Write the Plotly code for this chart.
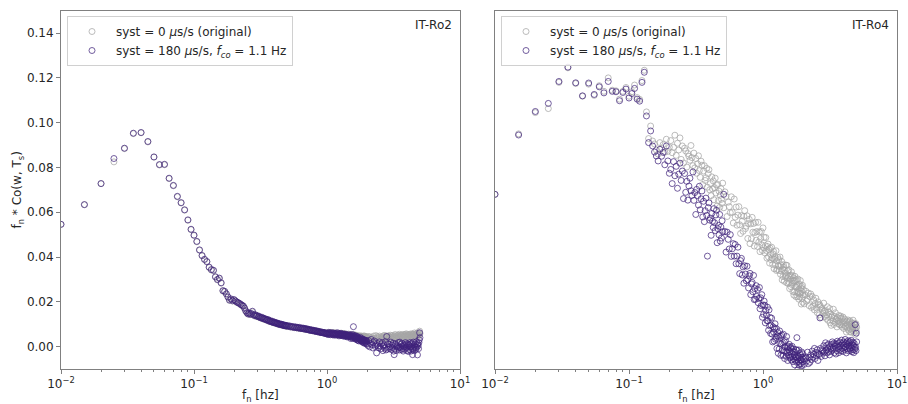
import plotly.graph_objects as go

# ---------------- data ----------------
FREQ = [
    # 0.010 - 0.200
    0.010, 0.015, 0.020, 0.025, 0.030, 0.035, 0.040, 0.045, 0.050, 0.055,
    0.060, 0.065, 0.070, 0.075, 0.080, 0.085, 0.090, 0.095, 0.100, 0.105,
    0.110, 0.115, 0.120, 0.125, 0.130, 0.135, 0.140, 0.145, 0.150, 0.155,
    0.160, 0.165, 0.170, 0.175, 0.180, 0.185, 0.190, 0.195, 0.200,
    # 0.205 - 0.500
    0.205, 0.210, 0.215, 0.220, 0.225, 0.230, 0.235, 0.240, 0.245, 0.250,
    0.255, 0.260, 0.265, 0.270, 0.275, 0.280, 0.285, 0.290, 0.295, 0.300,
    0.305, 0.310, 0.315, 0.320, 0.325, 0.330, 0.335, 0.340, 0.345, 0.350,
    0.355, 0.360, 0.365, 0.370, 0.375, 0.380, 0.385, 0.390, 0.395, 0.400,
    0.405, 0.410, 0.415, 0.420, 0.425, 0.430, 0.435, 0.440, 0.445, 0.450,
    0.455, 0.460, 0.465, 0.470, 0.475, 0.480, 0.485, 0.490, 0.495, 0.500,
    # 0.51 - 1.00
    0.51, 0.52, 0.53, 0.54, 0.55, 0.56, 0.57, 0.58, 0.59, 0.60,
    0.61, 0.62, 0.63, 0.64, 0.65, 0.66, 0.67, 0.68, 0.69, 0.70,
    0.71, 0.72, 0.73, 0.74, 0.75, 0.76, 0.77, 0.78, 0.79, 0.80,
    0.81, 0.82, 0.83, 0.84, 0.85, 0.86, 0.87, 0.88, 0.89, 0.90,
    0.91, 0.92, 0.93, 0.94, 0.95, 0.96, 0.97, 0.98, 0.99, 1.00,
    # 1.01 - 2.00
    1.01, 1.02, 1.03, 1.04, 1.05, 1.06, 1.07, 1.08, 1.09, 1.10,
    1.11, 1.12, 1.13, 1.14, 1.15, 1.16, 1.17, 1.18, 1.19, 1.20,
    1.21, 1.22, 1.23, 1.24, 1.25, 1.26, 1.27, 1.28, 1.29, 1.30,
    1.31, 1.32, 1.33, 1.34, 1.35, 1.36, 1.37, 1.38, 1.39, 1.40,
    1.41, 1.42, 1.43, 1.44, 1.45, 1.46, 1.47, 1.48, 1.49, 1.50,
    1.51, 1.52, 1.53, 1.54, 1.55, 1.56, 1.57, 1.58, 1.59, 1.60,
    1.61, 1.62, 1.63, 1.64, 1.65, 1.66, 1.67, 1.68, 1.69, 1.70,
    1.71, 1.72, 1.73, 1.74, 1.75, 1.76, 1.77, 1.78, 1.79, 1.80,
    1.81, 1.82, 1.83, 1.84, 1.85, 1.86, 1.87, 1.88, 1.89, 1.90,
    1.91, 1.92, 1.93, 1.94, 1.95, 1.96, 1.97, 1.98, 1.99, 2.00,
    # 2.03 - 5.00
    2.03, 2.06, 2.09, 2.12, 2.15, 2.18, 2.21, 2.24, 2.27, 2.30,
    2.33, 2.36, 2.39, 2.42, 2.45, 2.48, 2.51, 2.54, 2.57, 2.60,
    2.63, 2.66, 2.69, 2.72, 2.75, 2.78, 2.81, 2.84, 2.87, 2.90,
    2.93, 2.96, 2.99, 3.02, 3.05, 3.08, 3.11, 3.14, 3.17, 3.20,
    3.23, 3.26, 3.29, 3.32, 3.35, 3.38, 3.41, 3.44, 3.47, 3.50,
    3.53, 3.56, 3.59, 3.62, 3.65, 3.68, 3.71, 3.74, 3.77, 3.80,
    3.83, 3.86, 3.89, 3.92, 3.95, 3.98, 4.01, 4.04, 4.07, 4.10,
    4.13, 4.16, 4.19, 4.22, 4.25, 4.28, 4.31, 4.34, 4.37, 4.40,
    4.43, 4.46, 4.49, 4.52, 4.55, 4.58, 4.61, 4.64, 4.67, 4.70,
    4.73, 4.76, 4.79, 4.82, 4.85, 4.88, 4.91, 4.94, 4.97, 5.00,
]

# IT-Ro2, syst = 0 (original)
RO2_ORIG = [
    0.0546, 0.0634, 0.0728, 0.0825, 0.0884, 0.0951, 0.0955, 0.0914, 0.0846, 0.0811,
    0.0812, 0.0750, 0.0718, 0.0669, 0.0641, 0.0609, 0.0564, 0.0522, 0.0496, 0.0468,
    0.0430, 0.0405, 0.0388, 0.0378, 0.0353, 0.0342, 0.0339, 0.0310, 0.0298, 0.0304,
    0.0283, 0.0248, 0.0245, 0.0234, 0.0220, 0.0206, 0.0211, 0.0203, 0.0208,
    0.0203, 0.0197, 0.0195, 0.0191, 0.0187, 0.0183, 0.0180, 0.0170, 0.0159, 0.0150,
    0.0145, 0.0148, 0.0143, 0.0146, 0.0155, 0.0142, 0.0137, 0.0141, 0.0135, 0.0136,
    0.0132, 0.0133, 0.0129, 0.0127, 0.0129, 0.0124, 0.0125, 0.0121, 0.0122, 0.0119,
    0.0117, 0.0119, 0.0115, 0.0112, 0.0114, 0.0111, 0.0109, 0.0111, 0.0107, 0.0106,
    0.0107, 0.0104, 0.0105, 0.0102, 0.0103, 0.0100, 0.0101, 0.0098, 0.0099, 0.0097,
    0.0098, 0.0096, 0.0095, 0.0096, 0.0093, 0.0094, 0.0092, 0.0093, 0.0091, 0.0092,
    0.0090, 0.0090, 0.0088, 0.0089, 0.0087, 0.0087, 0.0085, 0.0086, 0.0084, 0.0084,
    0.0083, 0.0083, 0.0081, 0.0082, 0.0080, 0.0080, 0.0079, 0.0079, 0.0077, 0.0078,
    0.0076, 0.0076, 0.0075, 0.0074, 0.0074, 0.0073, 0.0073, 0.0071, 0.0072, 0.0070,
    0.0070, 0.0069, 0.0069, 0.0068, 0.0067, 0.0067, 0.0066, 0.0066, 0.0065, 0.0064,
    0.0064, 0.0063, 0.0063, 0.0062, 0.0062, 0.0061, 0.0061, 0.0060, 0.0060, 0.0059,
    0.0055, 0.0061, 0.0064, 0.0057, 0.0058, 0.0063, 0.0054, 0.0060, 0.0062, 0.0053,
    0.0062, 0.0056, 0.0060, 0.0053, 0.0058, 0.0061, 0.0055, 0.0052, 0.0059, 0.0057,
    0.0052, 0.0059, 0.0057, 0.0050, 0.0056, 0.0055, 0.0053, 0.0060, 0.0054, 0.0051,
    0.0056, 0.0051, 0.0053, 0.0058, 0.0049, 0.0055, 0.0052, 0.0057, 0.0048, 0.0054,
    0.0045, 0.0051, 0.0052, 0.0048, 0.0056, 0.0046, 0.0051, 0.0047, 0.0054, 0.0049,
    0.0049, 0.0040, 0.0051, 0.0047, 0.0044, 0.0053, 0.0046, 0.0042, 0.0050, 0.0053,
    0.0042, 0.0050, 0.0039, 0.0045, 0.0051, 0.0042, 0.0038, 0.0046, 0.0049, 0.0040,
    0.0041, 0.0045, 0.0034, 0.0047, 0.0044, 0.0039, 0.0048, 0.0036, 0.0042, 0.0046,
    0.0034, 0.0047, 0.0038, 0.0043, 0.0034, 0.0041, 0.0045, 0.0038, 0.0036, 0.0048,
    0.0041, 0.0034, 0.0045, 0.0038, 0.0043, 0.0032, 0.0039, 0.0045, 0.0036, 0.0041,
    0.0034, 0.0045, 0.0043, 0.0031, 0.0041, 0.0039, 0.0036, 0.0047, 0.0038, 0.0032,
    0.0049, 0.0038, 0.0045, 0.0034, 0.0041, 0.0047, 0.0036, 0.0031, 0.0043, 0.0040,
    0.0036, 0.0046, 0.0050, 0.0039, 0.0041, 0.0048, 0.0034, 0.0044, 0.0047, 0.0032,
    0.0046, 0.0037, 0.0051, 0.0042, 0.0048, 0.0034, 0.0043, 0.0050, 0.0039, 0.0045,
    0.0038, 0.0054, 0.0042, 0.0049, 0.0037, 0.0046, 0.0051, 0.0043, 0.0040, 0.0055,
    0.0045, 0.0050, 0.0036, 0.0052, 0.0048, 0.0042, 0.0054, 0.0039, 0.0046, 0.0051,
    0.0045, 0.0055, 0.0042, 0.0049, 0.0057, 0.0046, 0.0040, 0.0051, 0.0054, 0.0043,
    0.0051, 0.0040, 0.0054, 0.0049, 0.0045, 0.0057, 0.0048, 0.0043, 0.0053, 0.0056,
    0.0043, 0.0052, 0.0054, 0.0048, 0.0061, 0.0044, 0.0053, 0.0046, 0.0057, 0.0050,
    0.0058, 0.0049, 0.0053, 0.0062, 0.0047, 0.0056, 0.0051, 0.0060, 0.0069, 0.0058,
]

# IT-Ro2, syst = 180 us/s, f_co = 1.1 Hz
RO2_SYST = [
    0.0546, 0.0634, 0.0728, 0.0840, 0.0886, 0.0953, 0.0956, 0.0916, 0.0847, 0.0813,
    0.0814, 0.0752, 0.0720, 0.0671, 0.0643, 0.0611, 0.0566, 0.0524, 0.0498, 0.0470,
    0.0432, 0.0407, 0.0390, 0.0380, 0.0355, 0.0344, 0.0341, 0.0312, 0.0300, 0.0306,
    0.0285, 0.0250, 0.0247, 0.0236, 0.0222, 0.0208, 0.0213, 0.0205, 0.0210,
    0.0204, 0.0199, 0.0196, 0.0193, 0.0188, 0.0185, 0.0181, 0.0172, 0.0160, 0.0152,
    0.0146, 0.0150, 0.0144, 0.0148, 0.0158, 0.0143, 0.0139, 0.0142, 0.0136, 0.0138,
    0.0133, 0.0135, 0.0130, 0.0128, 0.0131, 0.0125, 0.0126, 0.0122, 0.0124, 0.0120,
    0.0118, 0.0121, 0.0116, 0.0113, 0.0116, 0.0112, 0.0110, 0.0113, 0.0108, 0.0107,
    0.0109, 0.0105, 0.0106, 0.0103, 0.0105, 0.0101, 0.0102, 0.0099, 0.0101, 0.0098,
    0.0100, 0.0097, 0.0096, 0.0098, 0.0094, 0.0095, 0.0093, 0.0095, 0.0092, 0.0093,
    0.0091, 0.0093, 0.0088, 0.0090, 0.0087, 0.0089, 0.0085, 0.0088, 0.0084, 0.0086,
    0.0083, 0.0086, 0.0081, 0.0083, 0.0080, 0.0083, 0.0079, 0.0081, 0.0077, 0.0080,
    0.0076, 0.0078, 0.0075, 0.0073, 0.0076, 0.0072, 0.0074, 0.0071, 0.0073, 0.0070,
    0.0069, 0.0071, 0.0068, 0.0070, 0.0066, 0.0068, 0.0065, 0.0067, 0.0064, 0.0063,
    0.0065, 0.0062, 0.0064, 0.0061, 0.0063, 0.0059, 0.0061, 0.0058, 0.0060, 0.0057,
    0.0060, 0.0054, 0.0063, 0.0057, 0.0061, 0.0053, 0.0058, 0.0062, 0.0056, 0.0059,
    0.0052, 0.0061, 0.0054, 0.0058, 0.0051, 0.0057, 0.0060, 0.0055, 0.0053, 0.0062,
    0.0053, 0.0056, 0.0048, 0.0058, 0.0055, 0.0052, 0.0059, 0.0050, 0.0054, 0.0057,
    0.0049, 0.0055, 0.0047, 0.0052, 0.0056, 0.0050, 0.0046, 0.0053, 0.0055, 0.0048,
    0.0049, 0.0043, 0.0051, 0.0048, 0.0046, 0.0053, 0.0047, 0.0044, 0.0050, 0.0052,
    0.0036, 0.0045, 0.0047, 0.0041, 0.0054, 0.0037, 0.0046, 0.0089, 0.0050, 0.0043,
    0.0044, 0.0035, 0.0039, 0.0048, 0.0033, 0.0042, 0.0037, 0.0046, 0.0030, 0.0040,
    0.0028, 0.0039, 0.0037, 0.0025, 0.0035, 0.0033, 0.0030, 0.0041, 0.0032, 0.0026,
    0.0036, 0.0025, 0.0032, 0.0021, 0.0028, 0.0034, 0.0023, 0.0018, 0.0030, 0.0027,
    0.0015, 0.0025, 0.0029, 0.0018, 0.0020, 0.0027, 0.0013, 0.0023, 0.0026, 0.0011,
    0.0005, 0.0027, -0.0001, 0.0014, 0.0032, 0.0008, -0.0006, 0.0019, 0.0025, 0.0001,
    0.0007, -0.0028, 0.0014, 0.0003, -0.0006, 0.0021, 0.0001, -0.0010, 0.0012, 0.0018,
    -0.0018, 0.0002, 0.0007, -0.0007, 0.0022, -0.0015, 0.0045, -0.0011, 0.0013, -0.0002,
    0.0011, -0.0009, 0.0000, 0.0020, -0.0013, 0.0007, -0.0004, 0.0015, -0.0020, -0.0036,
    -0.0011, 0.0013, 0.0009, -0.0018, 0.0004, 0.0000, -0.0007, 0.0018, -0.0002, -0.0015,
    0.0020, -0.0004, 0.0011, -0.0013, 0.0002, 0.0015, -0.0009, -0.0020, 0.0007, 0.0000,
    -0.0013, 0.0009, 0.0018, -0.0007, -0.0002, 0.0013, -0.0018, 0.0004, 0.0011, -0.0022,
    0.0007, -0.0013, 0.0018, -0.0002, 0.0011, -0.0020, 0.0000, 0.0015, -0.0009, -0.0036,
    -0.0015, 0.0020, -0.0007, 0.0009, -0.0018, 0.0002, 0.0013, -0.0004, -0.0011, 0.0022,
    -0.0002, 0.0009, -0.0037, 0.0013, 0.0004, -0.0009, 0.0018, 0.0030, 0.0062, 0.0040,
]

# IT-Ro4, syst = 0 (original)
RO4_ORIG = [
    0.0680, 0.0950, 0.1045, 0.1063, 0.1180, 0.1245, 0.1175, 0.1118, 0.1172, 0.1122,
    0.1165, 0.1140, 0.1200, 0.1145, 0.1142, 0.1105, 0.1140, 0.1157, 0.1118, 0.1138,
    0.1168, 0.1112, 0.1104, 0.1188, 0.1234, 0.1048, 0.0929, 0.0985, 0.0918, 0.0905,
    0.0878, 0.0860, 0.0911, 0.0885, 0.0902, 0.0868, 0.0926, 0.0872, 0.0890,
    0.0920, 0.0866, 0.0890, 0.0944, 0.0854, 0.0908, 0.0878, 0.0932, 0.0836, 0.0896,
    0.0820, 0.0886, 0.0874, 0.0802, 0.0862, 0.0850, 0.0832, 0.0898, 0.0844, 0.0808,
    0.0864, 0.0798, 0.0840, 0.0774, 0.0816, 0.0852, 0.0786, 0.0756, 0.0828, 0.0810,
    0.0724, 0.0784, 0.0808, 0.0742, 0.0754, 0.0796, 0.0712, 0.0772, 0.0790, 0.0700,
    0.0728, 0.0674, 0.0758, 0.0704, 0.0740, 0.0656, 0.0710, 0.0752, 0.0686, 0.0722,
    0.0628, 0.0724, 0.0652, 0.0694, 0.0622, 0.0676, 0.0706, 0.0658, 0.0640, 0.0730,
    0.0620, 0.0691, 0.0671, 0.0581, 0.0645, 0.0625, 0.0598, 0.0669, 0.0600, 0.0552,
    0.0659, 0.0578, 0.0623, 0.0542, 0.0587, 0.0625, 0.0544, 0.0505, 0.0585, 0.0560,
    0.0515, 0.0582, 0.0607, 0.0527, 0.0538, 0.0584, 0.0483, 0.0550, 0.0568, 0.0460,
    0.0548, 0.0482, 0.0577, 0.0511, 0.0550, 0.0449, 0.0509, 0.0555, 0.0475, 0.0514,
    0.0447, 0.0555, 0.0467, 0.0512, 0.0424, 0.0483, 0.0514, 0.0454, 0.0429, 0.0530,
    0.0441, 0.0488, 0.0419, 0.0451, 0.0487, 0.0429, 0.0395, 0.0447, 0.0458, 0.0400,
    0.0432, 0.0373, 0.0440, 0.0411, 0.0388, 0.0444, 0.0396, 0.0367, 0.0414, 0.0425,
    0.0348, 0.0390, 0.0398, 0.0365, 0.0428, 0.0340, 0.0383, 0.0345, 0.0398, 0.0360,
    0.0388, 0.0340, 0.0358, 0.0400, 0.0323, 0.0365, 0.0338, 0.0380, 0.0298, 0.0345,
    0.0313, 0.0366, 0.0354, 0.0292, 0.0340, 0.0328, 0.0311, 0.0364, 0.0317, 0.0285,
    0.0363, 0.0306, 0.0339, 0.0282, 0.0315, 0.0343, 0.0286, 0.0259, 0.0317, 0.0300,
    0.0268, 0.0316, 0.0334, 0.0277, 0.0285, 0.0318, 0.0246, 0.0294, 0.0307, 0.0230,
    0.0293, 0.0246, 0.0314, 0.0267, 0.0295, 0.0223, 0.0266, 0.0299, 0.0242, 0.0270,
    0.0223, 0.0302, 0.0240, 0.0274, 0.0212, 0.0256, 0.0279, 0.0238, 0.0221, 0.0295,
    0.0238, 0.0262, 0.0190, 0.0269, 0.0247, 0.0216, 0.0274, 0.0198, 0.0231, 0.0255,
    0.0191, 0.0231, 0.0247, 0.0203, 0.0211, 0.0239, 0.0183, 0.0223, 0.0235, 0.0175,
    0.0224, 0.0180, 0.0208, 0.0164, 0.0192, 0.0216, 0.0172, 0.0152, 0.0200, 0.0188,
    0.0142, 0.0186, 0.0178, 0.0130, 0.0170, 0.0162, 0.0150, 0.0194, 0.0158, 0.0134,
    0.0162, 0.0126, 0.0142, 0.0178, 0.0118, 0.0154, 0.0134, 0.0170, 0.0106, 0.0146,
    0.0095, 0.0131, 0.0139, 0.0115, 0.0167, 0.0099, 0.0135, 0.0107, 0.0151, 0.0123,
    0.0121, 0.0088, 0.0130, 0.0115, 0.0103, 0.0139, 0.0112, 0.0097, 0.0127, 0.0136,
    0.0096, 0.0126, 0.0087, 0.0108, 0.0132, 0.0099, 0.0081, 0.0114, 0.0123, 0.0090,
    0.0092, 0.0107, 0.0065, 0.0113, 0.0101, 0.0083, 0.0119, 0.0074, 0.0095, 0.0110,
    0.0067, 0.0115, 0.0079, 0.0100, 0.0064, 0.0091, 0.0106, 0.0082, 0.0073, 0.0118,
    0.0090, 0.0063, 0.0105, 0.0078, 0.0096, 0.0054, 0.0081, 0.0102, 0.0069, 0.0087,
]

# IT-Ro4, syst = 180 us/s, f_co = 1.1 Hz
RO4_SYST = [
    0.0680, 0.0945, 0.1050, 0.1086, 0.1184, 0.1248, 0.1178, 0.1120, 0.1177, 0.1126,
    0.1160, 0.1133, 0.1184, 0.1140, 0.1138, 0.1098, 0.1135, 0.1150, 0.1110, 0.1130,
    0.1153, 0.1105, 0.1096, 0.1180, 0.1225, 0.1030, 0.0911, 0.0963, 0.0896, 0.0869,
    0.0851, 0.0829, 0.0881, 0.0850, 0.0867, 0.0812, 0.0896, 0.0829, 0.0774,
    0.0791, 0.0728, 0.0826, 0.0763, 0.0805, 0.0707, 0.0770, 0.0819, 0.0742, 0.0784,
    0.0661, 0.0773, 0.0689, 0.0738, 0.0654, 0.0717, 0.0752, 0.0696, 0.0675, 0.0780,
    0.0653, 0.0688, 0.0590, 0.0702, 0.0674, 0.0632, 0.0716, 0.0611, 0.0660, 0.0695,
    0.0579, 0.0649, 0.0558, 0.0607, 0.0663, 0.0586, 0.0404, 0.0621, 0.0642, 0.0565,
    0.0574, 0.0497, 0.0595, 0.0560, 0.0532, 0.0616, 0.0553, 0.0518, 0.0588, 0.0609,
    0.0464, 0.0527, 0.0541, 0.0499, 0.0590, 0.0471, 0.0534, 0.0485, 0.0562, 0.0513,
    0.0680, 0.0514, 0.0422, 0.0511, 0.0479, 0.0436, 0.0500, 0.0403, 0.0437, 0.0460,
    0.0404, 0.0456, 0.0370, 0.0404, 0.0444, 0.0370, 0.0326, 0.0384, 0.0394, 0.0320,
    0.0356, 0.0283, 0.0361, 0.0324, 0.0294, 0.0359, 0.0299, 0.0262, 0.0316, 0.0327,
    0.0232, 0.0280, 0.0287, 0.0245, 0.0318, 0.0210, 0.0259, 0.0211, 0.0272, 0.0224,
    0.0255, 0.0196, 0.0215, 0.0264, 0.0169, 0.0218, 0.0183, 0.0232, 0.0131, 0.0186,
    0.0144, 0.0203, 0.0185, 0.0106, 0.0160, 0.0141, 0.0116, 0.0176, 0.0115, 0.0073,
    0.0164, 0.0093, 0.0130, 0.0059, 0.0096, 0.0127, 0.0056, 0.0021, 0.0088, 0.0065,
    0.0025, 0.0082, 0.0102, 0.0033, 0.0041, 0.0080, -0.0008, 0.0049, 0.0063, -0.0030,
    0.0045, -0.0011, 0.0070, 0.0014, 0.0047, -0.0039, 0.0012, 0.0052, -0.0017, 0.0017,
    -0.0039, 0.0055, -0.0019, 0.0021, -0.0053, -0.0001, 0.0027, -0.0023, -0.0043, 0.0045,
    -0.0026, -0.0006, -0.0062, 0.0002, -0.0014, -0.0038, 0.0010, -0.0050, -0.0022, -0.0002,
    -0.0047, -0.0007, -0.0059, -0.0031, 0.0001, -0.0043, -0.0067, -0.0023, -0.0011, -0.0055,
    -0.0037, -0.0081, -0.0025, -0.0045, -0.0061, -0.0013, -0.0049, -0.0069, 0.0040, -0.0017,
    -0.0105, -0.0051, -0.0043, -0.0067, -0.0015, -0.0083, -0.0047, -0.0075, -0.0031, -0.0059,
    -0.0040, -0.0076, -0.0060, -0.0024, -0.0084, -0.0048, -0.0068, -0.0032, -0.0112, -0.0056,
    -0.0079, -0.0052, -0.0046, -0.0064, -0.0025, -0.0076, -0.0049, -0.0070, -0.0037, -0.0058,
    -0.0020, -0.0047, -0.0035, -0.0008, -0.0053, -0.0026, -0.0041, -0.0014, -0.0062, -0.0032,
    -0.0035, 0.0128, -0.0008, -0.0044, -0.0014, -0.0020, -0.0029, 0.0004, -0.0023, -0.0041,
    0.0017, -0.0016, 0.0005, -0.0028, -0.0007, 0.0011, -0.0022, -0.0037, -0.0001, -0.0010,
    -0.0021, 0.0009, 0.0021, -0.0012, -0.0006, 0.0015, -0.0027, 0.0003, 0.0012, -0.0033,
    0.0009, -0.0018, 0.0024, -0.0003, 0.0015, -0.0027, 0.0000, 0.0021, -0.0012, 0.0006,
    -0.0019, 0.0029, -0.0007, 0.0014, -0.0022, 0.0005, 0.0020, -0.0004, -0.0013, 0.0032,
    -0.0001, 0.0014, -0.0028, 0.0020, 0.0008, -0.0010, 0.0026, -0.0019, 0.0002, 0.0017,
    -0.0008, 0.0022, -0.0017, 0.0004, 0.0028, -0.0005, -0.0023, 0.0010, 0.0019, -0.0014,
    0.0006, -0.0027, 0.0015, 0.0000, -0.0012, 0.0098, -0.0003, -0.0018, 0.0060, 0.0021,
]

for arr in (RO2_ORIG, RO2_SYST, RO4_ORIG, RO4_SYST):
    assert len(arr) == len(FREQ), (len(arr), len(FREQ))

LABEL_ORIG = "syst = 0 <i>\u03bc</i>s/s (original)"
LABEL_SYST = "syst = 180 <i>\u03bc</i>s/s, <i>f</i><sub><i>co</i></sub> = 1.1 Hz"
PANELS = ["IT-Ro2", "IT-Ro4"]
X_TITLE = "f<sub>n</sub> [hz]"
Y_TITLE = "f<sub>n</sub> * Co(w, T<sub>s</sub>)"
Y_TICKS = [0.00, 0.02, 0.04, 0.06, 0.08, 0.10, 0.12, 0.14]
X_TICKS = [0.01, 0.1, 1, 10]
X_TICKTEXT = ["10<sup>\u22122</sup>", "10<sup>\u22121</sup>", "10<sup>0</sup>", "10<sup>1</sup>"]

# ---------------- styles ----------------
FONT = "DejaVu Sans"
TXT = "#262626"
GRAY = "rgba(165,165,165,0.75)"
PURPLE = "rgba(62,33,122,0.72)"
FRAME = "#808080"

fig = go.Figure()

def add_pair(orig, syst, xa, ya, legend):
    fig.add_trace(go.Scatter(
        x=FREQ, y=orig, mode="markers", name=LABEL_ORIG, xaxis=xa, yaxis=ya, legend=legend,
        marker=dict(symbol="circle-open", size=6, color=GRAY, line=dict(width=1, color=GRAY)),
    ))
    fig.add_trace(go.Scatter(
        x=FREQ, y=syst, mode="markers", name=LABEL_SYST, xaxis=xa, yaxis=ya, legend=legend,
        marker=dict(symbol="circle-open", size=6, color=PURPLE, line=dict(width=1, color=PURPLE)),
    ))

add_pair(RO2_ORIG, RO2_SYST, "x", "y", "legend")
add_pair(RO4_ORIG, RO4_SYST, "x2", "y2", "legend2")

W, H = 908, 404
L1, R1 = 61, 460
L2, R2 = 495, 897
TOP, BOT = 10.7, 369

xcommon = dict(
    type="log", range=[-2, 1], tickvals=X_TICKS, ticktext=X_TICKTEXT,
    showline=True, mirror=True, linecolor=FRAME, linewidth=1,
    ticks="outside", ticklen=4, tickcolor=FRAME, showgrid=False, zeroline=False,
    minor=dict(ticks="outside", ticklen=2, tickcolor=FRAME, dtick="D1", showgrid=False),
    tickfont=dict(family=FONT, size=12, color=TXT), automargin=False,
)
ycommon = dict(
    range=[-0.01, 0.15], tickvals=Y_TICKS, tickformat=".2f",
    showline=True, mirror=True, linecolor=FRAME, linewidth=1,
    showgrid=False, zeroline=False, automargin=False,
    tickfont=dict(family=FONT, size=12, color=TXT),
)

ydom = [1 - BOT / H, 1 - TOP / H]
legend_style = dict(xanchor="left", yanchor="top",
                    bgcolor="rgba(255,255,255,0.85)", bordercolor="#d0d0d0", borderwidth=1,
                    font=dict(family=FONT, size=12, color=TXT), itemwidth=38)
fig.update_layout(
    width=W, height=H, margin=dict(l=0, r=0, t=0, b=0),
    paper_bgcolor="white", plot_bgcolor="white",
    font=dict(family=FONT, size=12, color=TXT),
    xaxis=dict(domain=[L1 / W, R1 / W], anchor="y", **xcommon),
    xaxis2=dict(domain=[L2 / W, R2 / W], anchor="y2", **xcommon),
    yaxis=dict(domain=ydom, anchor="x", ticks="outside", ticklen=4, tickcolor=FRAME,
               title=dict(text=Y_TITLE, font=dict(family=FONT, size=12, color=TXT), standoff=2),
               **ycommon),
    yaxis2=dict(domain=ydom, anchor="x2", matches="y", showticklabels=False, ticks="", **ycommon),
    legend=dict(x=67 / W, y=1 - 16 / H, **legend_style),
    legend2=dict(x=501 / W, y=1 - 16 / H, **legend_style),
    showlegend=True,
)

for name, xl, xr in zip(PANELS, [L1, L2], [R1, R2]):
    fig.add_annotation(text=name, xref="paper", yref="paper", x=(xr - 6) / W, y=1 - 25 / H,
                       xanchor="right", yanchor="middle", showarrow=False,
                       font=dict(family=FONT, size=12, color=TXT))
    fig.add_annotation(text=X_TITLE, xref="paper", yref="paper", x=(xl + xr) / 2 / W,
                       y=1 - 396 / H, xanchor="center", yanchor="middle", showarrow=False,
                       font=dict(family=FONT, size=12, color=TXT))

fig.write_html("out.html", config={"displayModeBar": False},
               post_script="document.body.style.margin='0px';")
